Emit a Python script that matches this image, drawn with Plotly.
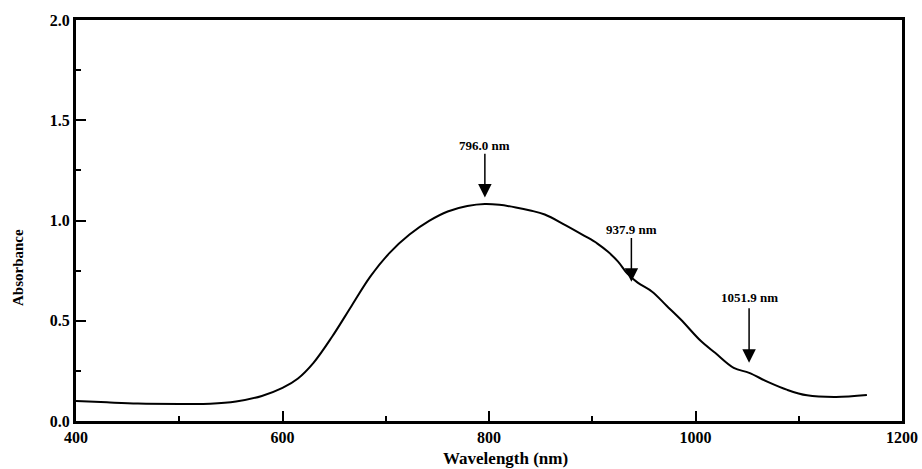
import plotly.graph_objects as go

# Spectrum
wavelength_nm = [400, 430, 460, 500, 530, 555, 580, 600, 615, 630, 648, 667, 685, 704,
                 723, 742, 760, 779, 796, 810, 826, 840, 854, 873, 892, 905, 915, 925,
                 934, 944, 958, 972, 986, 1005, 1019, 1037, 1052, 1070, 1089, 1108, 1136, 1166]
absorbance = [0.100, 0.093, 0.087, 0.085, 0.086, 0.097, 0.125, 0.165, 0.212, 0.290, 0.420,
              0.575, 0.720, 0.840, 0.930, 0.998, 1.045, 1.072, 1.082, 1.078, 1.065, 1.050,
              1.030, 0.980, 0.925, 0.885, 0.845, 0.795, 0.735, 0.690, 0.645, 0.575, 0.505,
              0.400, 0.340, 0.265, 0.240, 0.195, 0.155, 0.128, 0.120, 0.130]

# Marked peaks
peak_nm = [796.0, 937.9, 1051.9]
peak_labels = ["796.0 nm", "937.9 nm", "1051.9 nm"]
arrow_tip = [1.115, 0.695, 0.29]
arrow_tail = [1.34, 0.92, 0.57]
label_y = [1.375, 0.955, 0.615]

x_ticks = [400, 600, 800, 1000, 1200]
y_ticks = [0.0, 0.5, 1.0, 1.5, 2.0]

FONT = "Liberation Serif"

fig = go.Figure()
fig.add_trace(go.Scatter(x=wavelength_nm, y=absorbance, mode="lines",
                         line=dict(color="black", width=2, shape="spline", smoothing=1.0),
                         showlegend=False, hoverinfo="skip"))

for xv, lab, tip, tail, ly in zip(peak_nm, peak_labels, arrow_tip, arrow_tail, label_y):
    fig.add_annotation(x=xv, y=tip, ax=xv, ay=tail, axref="x", ayref="y", xref="x", yref="y",
                       text="", showarrow=True, arrowhead=2, arrowsize=1.8, arrowwidth=1.5,
                       arrowcolor="black")
    fig.add_annotation(x=xv, y=ly, xref="x", yref="y", text=lab, showarrow=False,
                       font=dict(family=FONT, size=13, color="black", weight="bold"))

fig.add_annotation(x=0.52, y=0, xref="paper", yref="paper", text="Wavelength (nm)",
                   showarrow=False, yanchor="middle", yshift=-37,
                   font=dict(family=FONT, size=17, color="black", weight="bold"))
fig.add_annotation(x=0, y=0.3815, xref="paper", yref="paper", text="Absorbance",
                   showarrow=False, textangle=-90, xanchor="center", yanchor="middle",
                   xshift=-58,
                   font=dict(family=FONT, size=15, color="black", weight="bold"))

fig.update_layout(
    width=922, height=469,
    margin=dict(l=76, r=20, t=20, b=48, autoexpand=False),
    paper_bgcolor="white", plot_bgcolor="white",
    font=dict(family=FONT, color="black"),
)

fig.update_xaxes(range=[400, 1200], tickvals=x_ticks,
                 ticks="inside", ticklen=10, tickwidth=2,
                 tickcolor="black", showline=True, linewidth=3, linecolor="black", mirror=True,
                 showgrid=False, zeroline=False, ticklabeloverflow="allow", automargin=False,
                 tickfont=dict(family=FONT, size=16, color="black", weight="bold"),
                 minor=dict(dtick=100, tick0=400, ticks="inside", ticklen=5, tickwidth=2,
                            tickcolor="black", showgrid=False))
fig.update_yaxes(range=[0, 2.0], tickvals=y_ticks, ticktext=[f"{v:.1f}" for v in y_ticks],
                 ticks="inside", ticklen=10, tickwidth=2,
                 tickcolor="black", showline=True, linewidth=3, linecolor="black", mirror=True,
                 showgrid=False, zeroline=False, ticklabeloverflow="allow", automargin=False,
                 tickfont=dict(family=FONT, size=16, color="black", weight="bold"),
                 minor=dict(dtick=0.25, tick0=0, ticks="inside", ticklen=5, tickwidth=2,
                            tickcolor="black", showgrid=False))

fig.write_html("out.html")
